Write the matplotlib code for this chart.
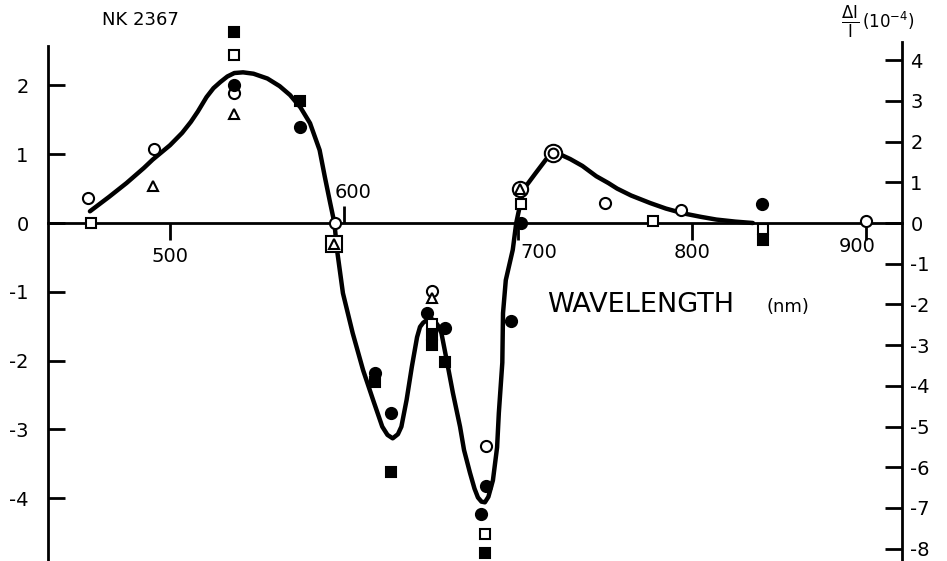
import numpy as np
import matplotlib
matplotlib.use("Agg")
import matplotlib.pyplot as plt
from matplotlib.ticker import FixedLocator

plt.rcParams['font.family'] = ['DejaVu Sans']
plt.rcParams['axes.unicode_minus'] = False
plt.rcParams['mathtext.fontset'] = 'dejavusans'

# smooth hand-drawn curve through the measurements (wavelength nm, signal)
curve_wl = [454, 465, 475, 485, 490, 500, 507, 512, 516, 521, 525, 529, 533, 537, 542, 548,
            556, 563, 569, 575, 580.5, 586, 589, 592, 594.5, 596, 599.4, 605, 611, 616.7,
            622, 625, 628, 631, 633, 636, 639, 642, 643.7, 645.5, 647.7, 650, 652, 654, 656, 659,
            662.6, 666.7, 669, 672.4, 675, 677, 679, 681, 683, 685.6, 688, 689, 691, 691.4, 693,
            697, 699, 702, 705, 710, 716, 720, 724, 730, 737, 745, 752, 757, 765, 776, 785, 795,
            805, 814, 825, 835]
curve_val = [0.17, 0.38, 0.58, 0.80, 0.92, 1.13, 1.31, 1.47, 1.62, 1.83, 1.96, 2.05, 2.13, 2.18, 2.19,
             2.17, 2.10, 1.99, 1.86, 1.68, 1.45, 1.06, 0.67, 0.30, 0.0, -0.39, -1.02, -1.60, -2.14,
             -2.57, -2.96, -3.08, -3.13, -3.07, -2.96, -2.57, -2.09, -1.66, -1.51, -1.45, -1.41, -1.39,
             -1.42, -1.49, -1.60, -1.99, -2.47, -2.96, -3.30, -3.63, -3.86, -3.99, -4.05, -4.06, -3.98,
             -3.74, -3.26, -2.76, -2.03, -1.31, -0.83, -0.39, 0.0, 0.36, 0.55, 0.72, 0.92, 1.02, 1.00,
             0.93, 0.83, 0.68, 0.58, 0.50, 0.40, 0.29, 0.21, 0.14, 0.09, 0.05, 0.02, 0.0]

open_circ_wl = [453, 491, 537, 595, 650.6, 681.6, 750, 793.7, 900]
open_circ_val = [0.36, 1.08, 1.89, 0.0, -0.99, -3.24, 0.29, 0.19, 0.03]
fill_circ_wl = [537, 575, 617.8, 627, 648, 658, 681.6, 678.7, 696, 702, 840]
fill_circ_val = [2.0, 1.40, -2.18, -2.76, -1.31, -1.53, -3.82, -4.23, -1.42, 0.0, 0.28]
open_sq_wl = [454.6, 537, 650.6, 681, 702, 777.6, 841]
open_sq_val = [0.0, 2.44, -1.47, -4.52, 0.28, 0.03, -0.09]
fill_sq_wl = [537, 575, 617.8, 627, 650.6, 650.6, 658, 681, 841]
fill_sq_val = [2.78, 1.77, -2.31, -3.62, -1.63, -1.77, -2.02, -4.80, -0.24]
tri_wl = [490, 537, 650.6, 594.5, 701]
tri_val = [0.54, 1.58, -1.09, -0.31, 0.50]
big_sq_wl, big_sq_val = [594.5], [-0.31]
big_circ_wl, big_circ_val = [701], [0.50]
ring_wl, ring_val = [720], [1.02]

left_ticks = [-4, -3, -2, -1, 0, 1, 2]
right_ticks = list(range(-8, 5))
scale_right = 1.69  # right axis units per left axis unit
x_labels = {500: (0, -24), 600: (6.5, 22), 700: (15, -21), 800: (0, -21), 900: (-6.5, -17)}

W, H = 947, 561
fig = plt.figure(figsize=(W / 100, H / 100), dpi=100)
ax = fig.add_axes([48 / W, 0, (902 - 48) / W, (H - 42) / H])
ax.set_xlim(429.9, 920.7)
ax.set_ylim(-4.913, 2.631)

for s in ['top', 'right']:
    ax.spines[s].set_visible(False)
ax.spines['bottom'].set_position(('data', 0))
for s in ['left', 'bottom']:
    ax.spines[s].set_linewidth(2)
ax.spines['left'].set_bounds(-4.913, 2.58)

ax.set_yticks(left_ticks)
ax.set_yticklabels([str(t) for t in left_ticks])
ax.tick_params(axis='y', direction='in', length=12, width=2, pad=14, labelsize=14)

ax.xaxis.set_major_locator(FixedLocator([500, 700, 800, 900]))
ax.xaxis.set_minor_locator(FixedLocator([600]))
ax.tick_params(axis='x', which='major', direction='out', length=12, width=2, labelbottom=False)
ax.tick_params(axis='x', which='minor', direction='in', length=12, width=2, labelbottom=False)
for wl, off in x_labels.items():
    ax.annotate(str(wl), xy=(wl, 0), xytext=off, textcoords='offset points',
                ha='center', va='center', fontsize=14)

ax2 = ax.twinx()
ax2.set_ylim(ax.get_ylim()[0] * scale_right, ax.get_ylim()[1] * scale_right)
for s in ['top', 'left', 'bottom']:
    ax2.spines[s].set_visible(False)
ax2.spines['right'].set_linewidth(2)
ax2.set_yticks(right_ticks)
ax2.set_yticklabels([str(t) for t in right_ticks])
ax2.tick_params(axis='y', direction='in', length=12, width=2, pad=6, labelsize=14)

ax.plot(curve_wl, curve_val, color='black', lw=3.2, solid_capstyle='round',
        solid_joinstyle='round', zorder=3)

mk = dict(linestyle='none', mec='black', mew=1.5, zorder=4, clip_on=False)
ax.plot(open_circ_wl, open_circ_val, 'o', ms=8, mfc='white', **mk)
ax.plot(fill_circ_wl, fill_circ_val, 'o', ms=8, mfc='black', **mk)
ax.plot(open_sq_wl, open_sq_val, 's', ms=7.5, mfc='white', **mk)
ax.plot(fill_sq_wl, fill_sq_val, 's', ms=7.5, mfc='black', **mk)
ax.plot(big_sq_wl, big_sq_val, 's', ms=11.5, mfc='white', **mk)
ax.plot(big_circ_wl, big_circ_val, 'o', ms=11, mfc='white', **mk)
ax.plot(ring_wl, ring_val, 'o', ms=12.5, mfc='white', **mk)
ax.plot(ring_wl, ring_val, 'o', ms=7, mfc='white', **mk)
ax.plot(tri_wl, tri_val, '^', ms=7, mfc='white', **mk)

fig.text(140 / W, 1 - 20 / H, 'NK 2367', ha='center', va='center', fontsize=13)
ax.text(717, -1.19, 'WAVELENGTH', ha='left', va='center', fontsize=19.5)
ax.text(843, -1.22, '(nm)', ha='left', va='center', fontsize=13)
fig.text(850 / W, 1 - 22 / H, r'$\frac{\Delta\mathrm{I}}{\mathrm{I}}$', ha='center', va='center', fontsize=17)
fig.text(862 / W, 1 - 21 / H, r'(10$^{-4}$)', ha='left', va='center', fontsize=12)

fig.savefig('out.png', dpi=100)
